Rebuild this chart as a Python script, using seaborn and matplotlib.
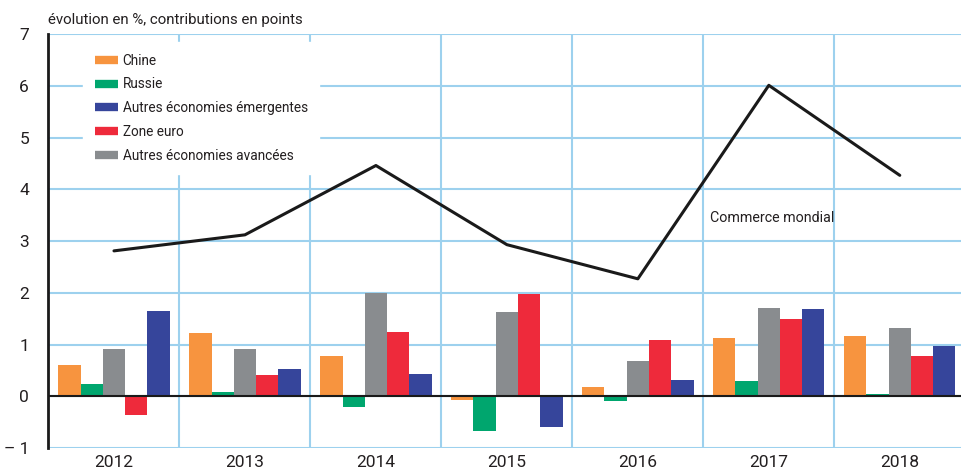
import numpy as np
import pandas as pd
import seaborn as sns
from matplotlib import pyplot as plt
from matplotlib.lines import Line2D

years = ["2012", "2013", "2014", "2015", "2016", "2017", "2018"]
chine = [0.60, 1.23, 0.77, -0.08, 0.17, 1.12, 1.16]
russie = [0.23, 0.09, -0.21, -0.68, -0.10, 0.29, 0.05]
autres_avancees = [0.91, 0.92, 2.00, 1.62, 0.68, 1.71, 1.32]
zone_euro = [-0.37, 0.42, 1.24, 1.97, 1.08, 1.49, 0.78]
autres_emergentes = [1.65, 0.53, 0.43, -0.60, 0.32, 1.68, 0.98]
commerce_mondial = [2.81, 3.12, 4.46, 2.93, 2.27, 6.01, 4.27]

series = {
    "Chine": chine,
    "Russie": russie,
    "Autres économies avancées": autres_avancees,
    "Zone euro": zone_euro,
    "Autres économies émergentes": autres_emergentes,
}
colors = {
    "Chine": "#F7943F",
    "Russie": "#00A66E",
    "Autres économies avancées": "#898C8F",
    "Zone euro": "#EE2A3B",
    "Autres économies émergentes": "#36459B",
}
legend_order = ["Chine", "Russie", "Autres économies émergentes", "Zone euro", "Autres économies avancées"]

rows = []
for name, vals in series.items():
    for y, v in zip(years, vals):
        rows.append({"annee": y, "serie": name, "valeur": v})
df = pd.DataFrame(rows)

sns.set_style("white")
plt.rcParams['font.family'] = ['Roboto', 'DejaVu Sans']
grid_col = "#9DD1EE"
text_col = "#231F20"

fig = plt.figure(figsize=(9.62, 4.73), dpi=100)
ax = fig.add_axes([0.0504, 0.0529, 0.953, 0.875])

sns.barplot(data=df, x="annee", y="valeur", hue="serie", hue_order=list(series.keys()),
            order=years, palette=colors, saturation=1, width=0.85, gap=0, linewidth=0,
            legend=False, ax=ax, zorder=3)
sns.lineplot(x=np.arange(len(years)), y=commerce_mondial, color="#1A1A1A", linewidth=2.2,
             ax=ax, zorder=5)

ax.set_xlim(-0.5, 6.5)
ax.set_ylim(-1, 7)
ax.set_yticks(range(-1, 8))
ax.set_yticklabels(["– 1"] + [str(i) for i in range(0, 8)])
ax.set_xticks(range(len(years)))
ax.set_xticklabels(years)
ax.tick_params(axis="both", length=0, labelsize=12.5, colors=text_col)
ax.tick_params(axis="y", pad=14)
ax.tick_params(axis="x", pad=5)
ax.set_xlabel("")
ax.set_ylabel("")

for yv in range(-1, 8):
    ax.axhline(yv, color=grid_col, linewidth=1.5, zorder=1)
for xv in np.arange(0.5, 6.5, 1.0):
    ax.axvline(xv, color=grid_col, linewidth=1.5, zorder=1)
ax.axhline(0, color="#1A1A1A", linewidth=1.5, zorder=4)

for s in ["top", "right", "bottom"]:
    ax.spines[s].set_visible(False)
ax.spines["left"].set_color("#1A1A1A")
ax.spines["left"].set_linewidth(2)
ax.spines["left"].set_zorder(6)

handles = [Line2D([0], [0], color=colors[n], linewidth=6, solid_capstyle="butt") for n in legend_order]
leg = ax.legend(handles, legend_order, loc="upper left", bbox_to_anchor=(0.0376, 0.981),
                frameon=True, fontsize=9.8, handlelength=1.7, handletextpad=0.37,
                labelspacing=0.72, borderpad=0.85, borderaxespad=0, fancybox=False)
leg.get_frame().set_facecolor("white")
leg.get_frame().set_edgecolor("white")
leg.get_frame().set_alpha(1)
leg.set_zorder(7)
for t in leg.get_texts():
    t.set_color(text_col)

ax.text(4.55, 3.45, "Commerce mondial", fontsize=10.3, color=text_col, va="center", ha="left", zorder=6)
fig.text(0.0504, 0.958, "évolution en %, contributions en points", fontsize=10.8,
         color=text_col, va="center", ha="left")

fig.savefig("out.png", dpi=100)
